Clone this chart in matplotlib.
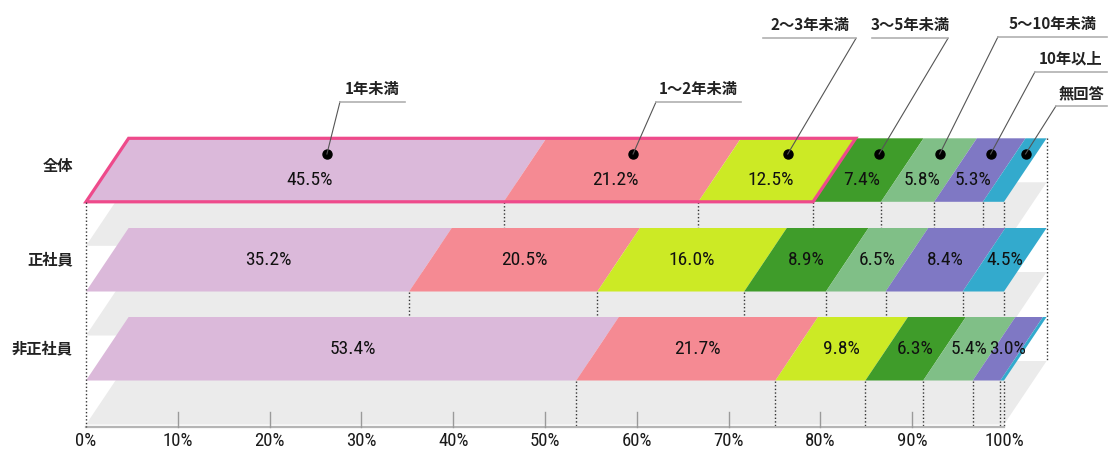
import matplotlib
matplotlib.use("Agg")
import matplotlib.pyplot as plt
import numpy as np

# ---------------- data ----------------
categories = ['1年未満', '1〜2年未満', '2〜3年未満', '3〜5年未満', '5〜10年未満', '10年以上', '無回答']
groups = ['全体', '正社員', '非正社員']
zentai = [45.5, 21.2, 12.5, 7.4, 5.8, 5.3, 2.3]
seishain = [35.2, 20.5, 16.0, 8.9, 6.5, 8.4, 4.5]
hiseishain = [53.4, 21.7, 9.8, 6.3, 5.4, 3.0, 0.4]
tick_values = [0, 10, 20, 30, 40, 50, 60, 70, 80, 90, 100]
tick_labels = ['0%', '10%', '20%', '30%', '40%', '50%', '60%', '70%', '80%', '90%', '100%']

colors = ['#dbb9da', '#f58a93', '#ccea25', '#3f9c2a', '#80bf87', '#7f78c4', '#33aacd']

# ---------------- layout ----------------
W, H = 1110, 457
x0_px, px_per_pct = 86.0, 9.18           # 0% position and pixels per percent
row_top = [138.3, 228.0, 317.0]          # top edge (pixels) of each slab
bar_h = 63.5                             # slab height (pixels)
slant = 42.6 / px_per_pct                # horizontal slant of slab (percent units)
floor_drop = 44.0                        # grey floor offset under each slab
axis_y = 426.7
label_y_offset = [10.0, 0.0, 0.0]        # shift of value labels inside slabs
dot_y = 154.0
highlight_n = 3                          # segments outlined in pink on first row

# callout underline spans (percent units) and heights (pixels), leader attach side
call_x0 = [27.67, 62.09, 73.75, 85.62, 99.35, 103.38, 105.66]
call_x1 = [34.75, 71.35, 83.88, 93.90, 111.2, 111.2, 111.2]
call_y = [101.7, 102.0, 38.3, 38.3, 36.7, 71.7, 106.0]
call_side = ['l', 'l', 'r', 'r', 'l', 'l', 'l']

JP = ['Noto Sans CJK JP', 'DejaVu Sans']
NUM = ['Liberation Sans Narrow', 'Roboto Condensed', 'Liberation Sans', 'DejaVu Sans']

fig = plt.figure(figsize=(W / 100, H / 100), dpi=100)
ax = fig.add_axes([0, 0, 1, 1])
ax.set_xlim(-x0_px / px_per_pct, (W - x0_px) / px_per_pct)
ax.set_ylim(H, 0)
ax.axis('off')


def para(a, b, top, h, s):
    bot = top + h
    return [a, b, b + s, a + s], [bot, bot, top, top]


data_rows = [zentai, seishain, hiseishain]

# grey floors
for i in range(3):
    xs, ys = para(0, 100, row_top[i] + floor_drop, bar_h, slant)
    ax.fill(xs, ys, color='#ebebeb', lw=0, zorder=1)

# dotted separators under each slab
for i, vals in enumerate(data_rows):
    cum = np.cumsum(vals)
    y_from = row_top[i] + bar_h
    y_to = row_top[i + 1] if i < 2 else axis_y
    for c in cum:
        ax.plot([c, c], [y_from, y_to], color='#333333', lw=1.0,
                ls=(0, (1, 1.6)), zorder=2)
# long left and right dotted edges
ax.plot([0, 0], [row_top[0] + bar_h, axis_y], color='#333333', lw=1.0,
        ls=(0, (1, 1.6)), zorder=6)
ax.plot([100 + slant, 100 + slant], [row_top[0], row_top[2] + floor_drop],
        color='#333333', lw=1.0, ls=(0, (1, 1.6)), zorder=6)

# axis line & ticks
ax.plot([0, 100], [axis_y, axis_y], color='#b5b5b5', lw=1.6, zorder=3)
for t in tick_values[1:-1]:
    ax.plot([t, t], [axis_y - 15, axis_y], color='#9a9a9a', lw=1.0, zorder=3)
for t, lab in zip(tick_values, tick_labels):
    ax.text(t, 441, lab, ha='center', va='center', fontsize=13.5,
            family=NUM, fontstretch='condensed', color='#1a1a1a')

# slabs
for i, vals in enumerate(data_rows):
    cum = np.concatenate([[0], np.cumsum(vals)])
    top = row_top[i]
    bot = top + bar_h
    for j, v in enumerate(vals):
        a, b = cum[j], cum[j + 1]
        xs, ys = para(a, b, top, bar_h, slant)
        ax.fill(xs, ys, color=colors[j], lw=0, zorder=4)
        if v >= 3.0:
            ly = (top + bot) / 2 + label_y_offset[i]
            lx = (a + b) / 2 + slant * (bot - ly) / bar_h
            ax.text(lx, ly, f'{v:.1f}%', ha='center', va='center',
                    fontsize=14, family=NUM, fontstretch='condensed',
                    color='#111111', zorder=7)
    ax.text(-x0_px / px_per_pct + 73 / px_per_pct, (top + bot) / 2 - (4 if i == 0 else 0),
            groups[i], ha='right', va='center', fontsize=11, family=JP,
            fontweight='bold', color='#222222')

# pink highlight outline on first row
cum0 = np.concatenate([[0], np.cumsum(zentai)])
xs, ys = para(0, cum0[highlight_n], row_top[0], bar_h, slant)
ax.fill(xs, ys, facecolor='none', edgecolor='#ee4a8b', lw=2.3, zorder=5,
        joinstyle='miter')

# callouts
bot0 = row_top[0] + bar_h
for j, cat in enumerate(categories):
    a, b = cum0[j], cum0[j + 1]
    dx = (a + b) / 2 + slant * (bot0 - dot_y) / bar_h
    ax.plot([dx], [dot_y], 'o', color='black', ms=6.5, zorder=8)
    ex = call_x0[j] if call_side[j] == 'l' else call_x1[j]
    ax.plot([dx, ex], [dot_y, call_y[j]], color='#555555', lw=0.8, zorder=8)
    ax.plot([call_x0[j], call_x1[j]], [call_y[j], call_y[j]], color='#b0b0b0',
            lw=1.2, zorder=8)
    ax.text((call_x0[j] + call_x1[j]) / 2, call_y[j] - 5, cat, ha='center',
            va='bottom', fontsize=11, family=JP, fontweight='bold',
            color='#222222', zorder=8)

fig.savefig('out.png', dpi=100)
